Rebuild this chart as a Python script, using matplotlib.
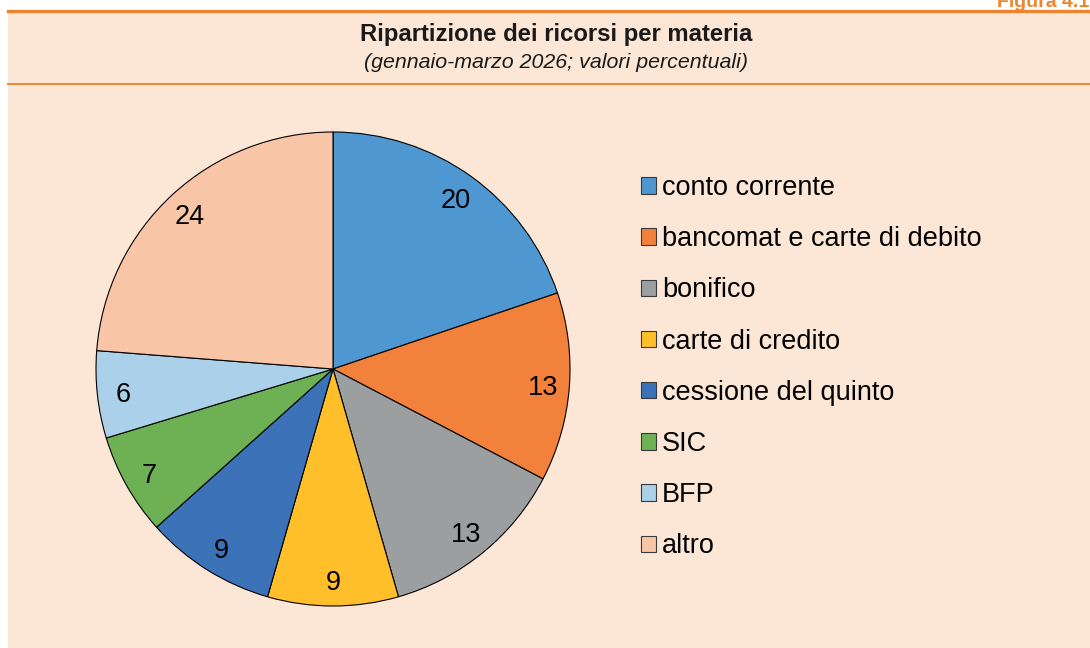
import matplotlib
matplotlib.use("Agg")
import matplotlib.pyplot as plt
from matplotlib.patches import Patch, Rectangle
from matplotlib.lines import Line2D

categories = ["conto corrente", "bancomat e carte di debito", "bonifico",
              "carte di credito", "cessione del quinto", "SIC", "BFP", "altro"]
values = [20, 13, 13, 9, 9, 7, 6, 24]
colors = ["#4F97D1", "#F2813C", "#9C9FA0", "#FEBF2A",
          "#3C72B8", "#6DB154", "#ABD1EA", "#F8C6A6"]

title = "Ripartizione dei ricorsi per materia"
subtitle = "(gennaio-marzo 2026; valori percentuali)"
fig_label = "Figura 4.1"

BG = "#FCE7D6"
ORANGE = "#EE8430"
FONT = "Liberation Sans"

W, H = 1090, 648
fig = plt.figure(figsize=(W / 100, H / 100), dpi=100)
fig.patch.set_facecolor("white")

# panel background
fig.patches.append(Rectangle((8 / W, 0), 1 - 8 / W, (H - 10) / H,
                             transform=fig.transFigure, facecolor=BG,
                             edgecolor="none", zorder=-5))
# orange rules
fig.add_artist(Line2D([8 / W, 1], [1 - 10.5 / H, 1 - 10.5 / H],
                      transform=fig.transFigure, color=ORANGE, lw=2.4))
fig.add_artist(Line2D([8 / W, 1], [1 - 84 / H, 1 - 84 / H],
                      transform=fig.transFigure, color=ORANGE, lw=1.4))

fig.text(1089 / W, 1 - 7 / H, fig_label, ha="right", va="baseline",
         color=ORANGE, fontsize=14, fontweight="bold", family=FONT)
fig.text(556 / W, 1 - 35 / H, title, ha="center", va="center",
         fontsize=17.2, fontweight="bold", family=FONT, color="#1a1a1a")
fig.text(556 / W, 1 - 63 / H, subtitle, ha="center", va="center",
         fontsize=15.4, style="italic", family=FONT, color="#1a1a1a")

# pie
cx, cy, r = 333, 369, 237
ax = fig.add_axes([(cx - r) / W, (H - cy - r) / H, 2 * r / W, 2 * r / H])
ax.set_zorder(2)
ax.set_facecolor("none")
wedges, texts, autotexts = ax.pie(
    values, colors=colors, startangle=90, counterclock=False,
    radius=1.0, autopct="%d", pctdistance=0.89,
    wedgeprops=dict(edgecolor="black", linewidth=0.8),
    textprops=dict(fontsize=19.5, family=FONT, color="black"))
for t, v in zip(autotexts, values):
    t.set_text(str(v))
    t.set_verticalalignment("center_baseline")
ax.set_xlim(-1.0, 1.0)
ax.set_ylim(-1.0, 1.0)
ax.set_aspect("equal")
ax.axis("off")

handles = [Patch(facecolor=c, edgecolor="#3a3a3a", linewidth=0.8) for c in colors]
leg = fig.legend(handles, categories, loc="upper left",
                 bbox_to_anchor=(641 / W, 1 - 175 / H),
                 frameon=False, prop=dict(family=FONT, size=19.5),
                 handlelength=0.55, handleheight=0.55, handletextpad=0.22,
                 labelspacing=0.93, borderpad=0, borderaxespad=0)
leg.set_zorder(3)
for t in leg.get_texts():
    t.set_color("black")

fig.savefig("out.png", dpi=100, facecolor=fig.get_facecolor())
